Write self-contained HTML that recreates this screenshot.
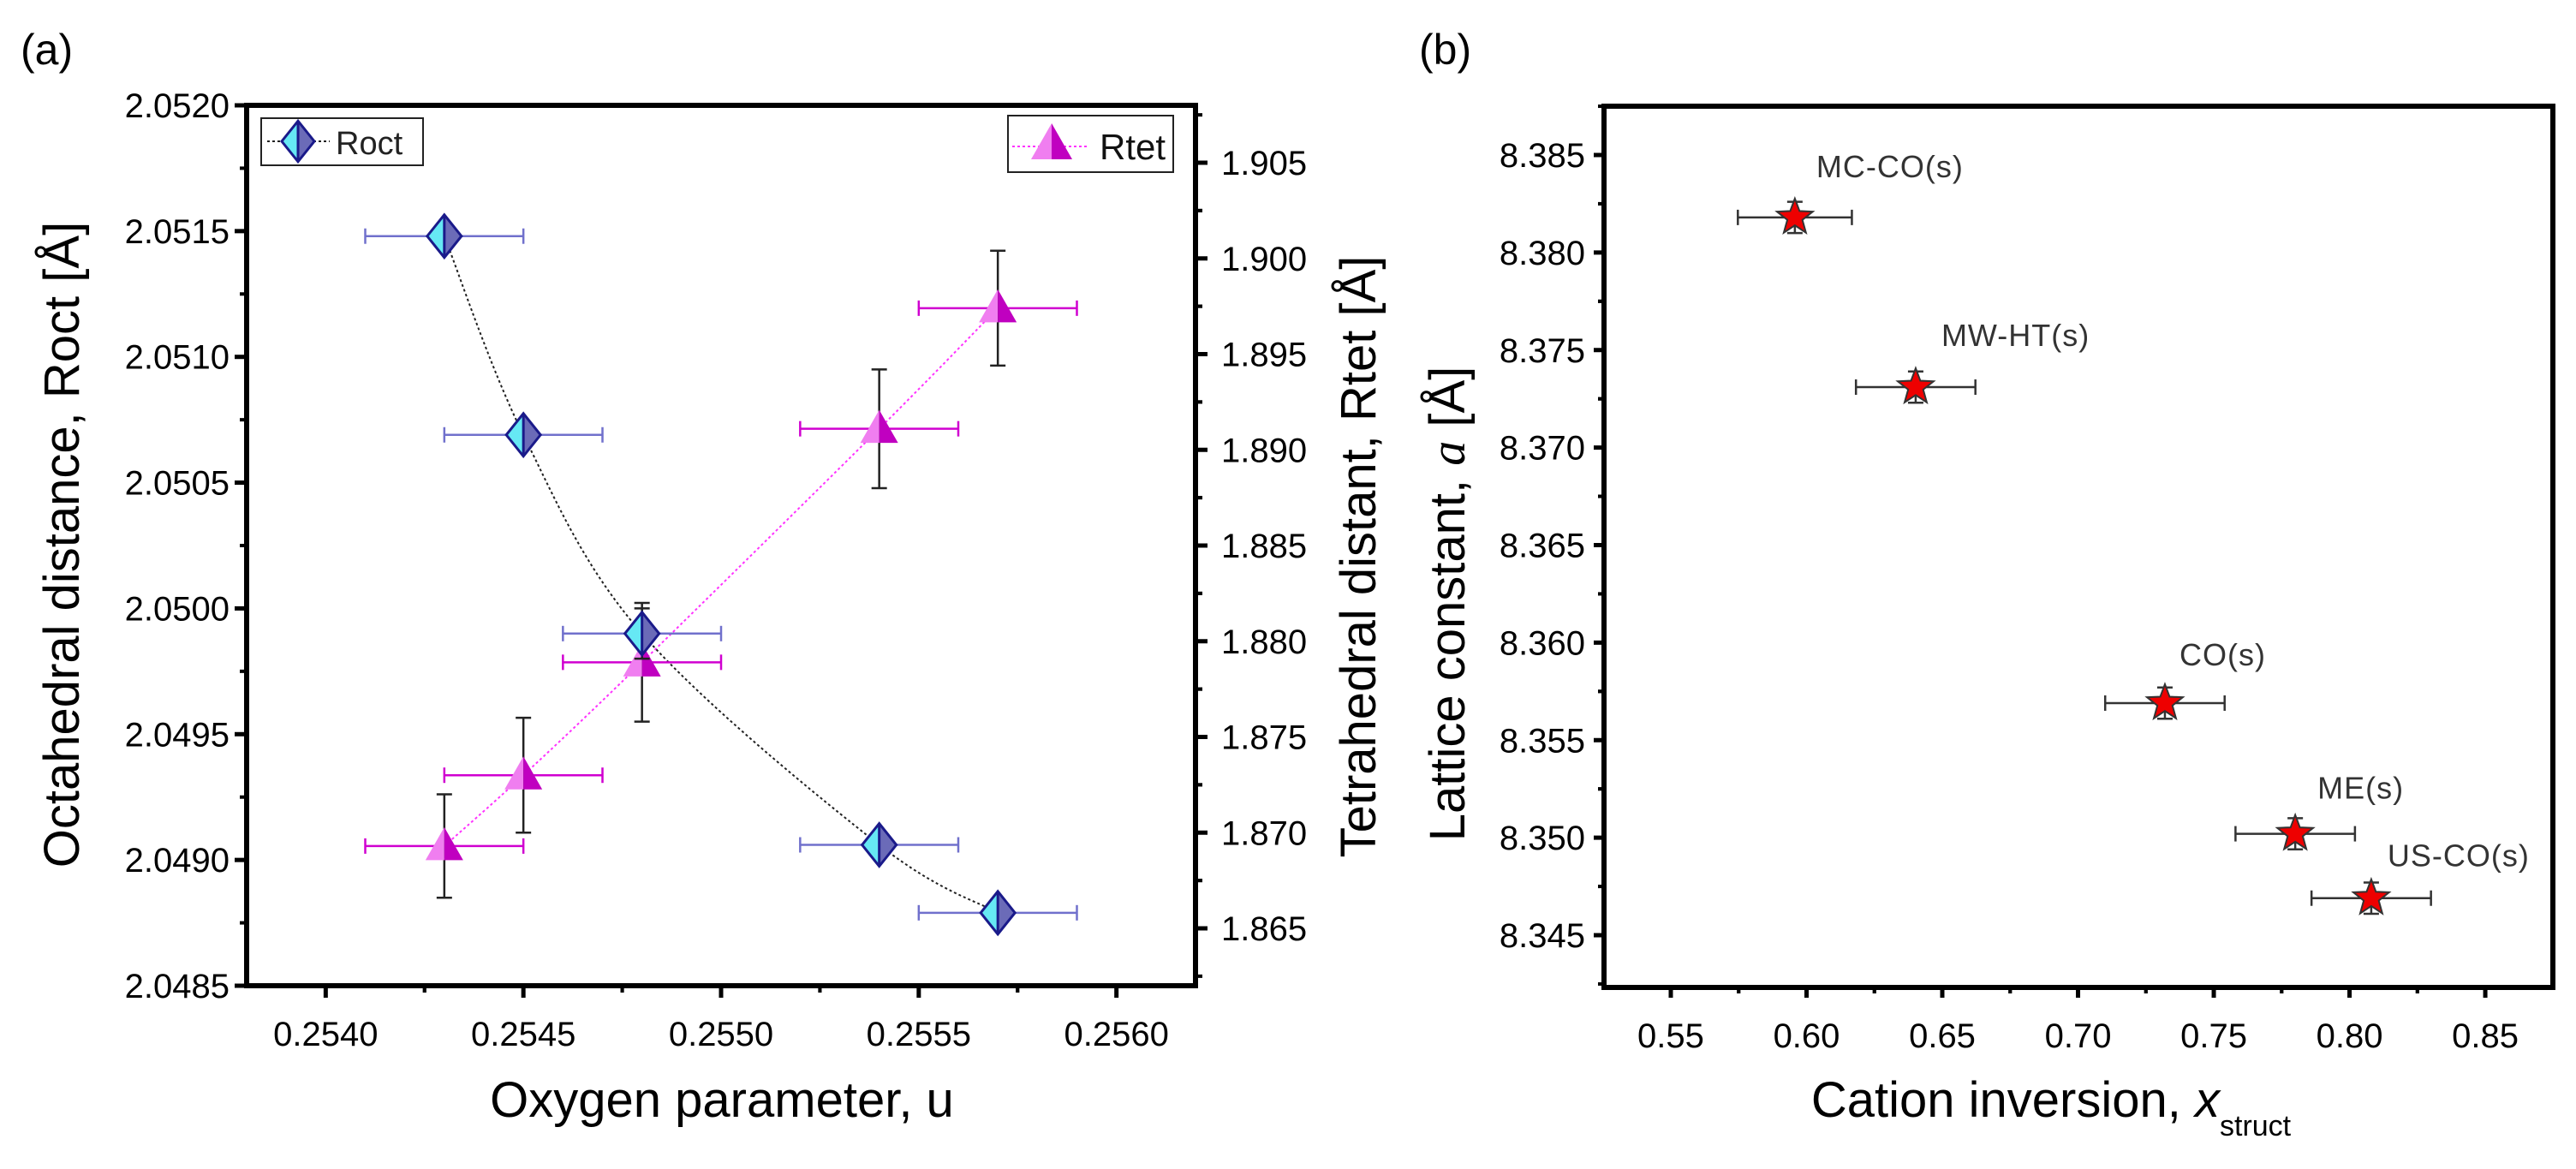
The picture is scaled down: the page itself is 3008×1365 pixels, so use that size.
<!DOCTYPE html>
<html><head><meta charset="utf-8">
<style>
html,body{margin:0;padding:0;background:#fff;}
svg{display:block;font-family:"Liberation Sans",Arial,sans-serif;}
</style></head>
<body>
<svg id="fig" width="3008" height="1365" viewBox="0 0 3008 1365" xmlns="http://www.w3.org/2000/svg">
<g id="pa"></g>
<g id="pb"></g>
</svg>
<script>
// ---------- Panel (a) data ----------
const uVals = [0.2543, 0.2545, 0.2548, 0.2554, 0.2557];
const rOct = [2.05148, 2.05069, 2.04990, 2.04906, 2.04879];
const rOctErr = [0.00005, 0.00005, 0.0001, 0.00005, 0.00005];
const rTet = [1.8693, 1.8730, 1.8789, 1.8911, 1.8974];
const rTetErr = [0.0027, 0.0030, 0.0031, 0.0031, 0.0030];
const uErr = [0.0002, 0.0002, 0.0002, 0.0002, 0.0002];
const aXTicks = ["0.2540","0.2545","0.2550","0.2555","0.2560"];
const aYTicks = ["2.0485","2.0490","2.0495","2.0500","2.0505","2.0510","2.0515","2.0520"];
const aY2Ticks = ["1.865","1.870","1.875","1.880","1.885","1.890","1.895","1.900","1.905"];
// ---------- Panel (b) data ----------
const sampleNames = ["MC-CO(s)","MW-HT(s)","CO(s)","ME(s)","US-CO(s)"];
const xStruct = [0.5957, 0.6402, 0.7320, 0.7800, 0.8080];
const xStructErr = [0.021, 0.022, 0.022, 0.022, 0.022];
const latticeA = [8.3818, 8.3731, 8.3569, 8.3502, 8.3469];
const latticeErr = [0.0008, 0.0008, 0.0008, 0.0008, 0.0008];
const bXTicks = ["0.55","0.60","0.65","0.70","0.75","0.80","0.85"];
const bYTicks = ["8.345","8.350","8.355","8.360","8.365","8.370","8.375","8.380","8.385"];

const NS="http://www.w3.org/2000/svg";
function mk(parent,tag,attrs,text){const e=document.createElementNS(NS,tag);for(const k in attrs)e.setAttribute(k,attrs[k]);if(text!==undefined)e.textContent=text;parent.appendChild(e);return e;}
function lin(d0,d1,r0,r1){return v=>r0+(v-d0)/(d1-d0)*(r1-r0);}
function smoothPath(pts){let d=`M${pts[0][0]},${pts[0][1]}`;for(let i=0;i<pts.length-1;i++){const p0=pts[Math.max(0,i-1)],p1=pts[i],p2=pts[i+1],p3=pts[Math.min(pts.length-1,i+2)];const c1=[p1[0]+(p2[0]-p0[0])/6,p1[1]+(p2[1]-p0[1])/6],c2=[p2[0]-(p3[0]-p1[0])/6,p2[1]-(p3[1]-p1[1])/6];d+=` C${c1[0]},${c1[1]} ${c2[0]},${c2[1]} ${p2[0]},${p2[1]}`;}return d;}

// ================= Panel A =================
const pa=document.getElementById('pa');
const A={l:288,r:1396,t:123,b:1151};
const ax=lin(0.2538,0.2562,A.l,A.r);
const ay=lin(2.0485,2.0520,1151,123);
const ay2=lin(1.865,1.905,1084,190);

let t=mk(pa,'text',{x:24,y:75,'font-size':50},'(a)');



// ticks left
aYTicks.forEach((s,i)=>{const v=parseFloat(s),y=ay(v);
  mk(pa,'line',{x1:A.l-14,x2:A.l,y1:y,y2:y,stroke:'#000','stroke-width':5});
  const tl=mk(pa,'text',{x:A.l-20,y:y+14,'font-size':40,'text-anchor':'end'},s);
  
  
  if(i<aYTicks.length-1){const ym=ay(v+0.00025);mk(pa,'line',{x1:A.l-8,x2:A.l,y1:ym,y2:ym,stroke:'#000','stroke-width':4});}
});
// ticks bottom
aXTicks.forEach((s,i)=>{const v=parseFloat(s),x=ax(v);
  mk(pa,'line',{x1:x,x2:x,y1:A.b,y2:A.b+14,stroke:'#000','stroke-width':5});
  const tl=mk(pa,'text',{x:x,y:A.b+70,'font-size':40,'text-anchor':'middle'},s);
  
  
  [-0.00025,0.00025].forEach(o=>{const vm=v+o;if(vm>0.2538&&vm<0.2562&&(o<0||i==aXTicks.length-1||true)){const xm=ax(vm);mk(pa,'line',{x1:xm,x2:xm,y1:A.b,y2:A.b+8,stroke:'#000','stroke-width':4});}});
});
// ticks right
aY2Ticks.forEach((s,i)=>{const v=parseFloat(s),y=ay2(v);
  mk(pa,'line',{x1:A.r,x2:A.r+14,y1:y,y2:y,stroke:'#000','stroke-width':5});
  const tl=mk(pa,'text',{x:A.r+30,y:y+14,'font-size':40},s);
  
  
  [-0.0025,0.0025].forEach(o=>{const ym=ay2(v+o);if(ym>A.t&&ym<A.b)mk(pa,'line',{x1:A.r,x2:A.r+8,y1:ym,y2:ym,stroke:'#000','stroke-width':4});});
});
// frame
let fr=mk(pa,'rect',{x:A.l,y:A.t,width:A.r-A.l,height:A.b-A.t,fill:'none',stroke:'#000','stroke-width':6});



// axis titles
t=mk(pa,'text',{x:0,y:0,'font-size':58,'text-anchor':'middle',transform:`translate(92,636) rotate(-90)`},'Octahedral distance, Roct [Å]');


t=mk(pa,'text',{x:0,y:0,'font-size':58,'text-anchor':'middle',transform:`translate(1606,650) rotate(-90)`},'Tetrahedral distant, Rtet [Å]');


t=mk(pa,'text',{x:843,y:1304,'font-size':58,'text-anchor':'middle'},'Oxygen parameter, u');



// fit lines
let ln=mk(pa,'path',{d:smoothPath(uVals.map((u,i)=>[ax(u),ay(rOct[i])])),fill:'none',stroke:'#222','stroke-width':2,'stroke-dasharray':'3,3'});


ln=mk(pa,'path',{d:smoothPath(uVals.map((u,i)=>[ax(u),ay2(rTet[i])])),fill:'none',stroke:'#ff33ff','stroke-width':2,'stroke-dasharray':'3,3'});



function diamond(g,x,y,s){
  mk(g,'polygon',{points:`${x},${y-s*1.25} ${x-s},${y} ${x},${y+s*1.25}`,fill:'#66e8f4'});
  mk(g,'polygon',{points:`${x},${y-s*1.25} ${x+s},${y} ${x},${y+s*1.25}`,fill:'#6b6bb8'});
  mk(g,'polygon',{points:`${x},${y-s*1.25} ${x-s},${y} ${x},${y+s*1.25} ${x+s},${y}`,fill:'none',stroke:'#1a1a8a','stroke-width':3});
  mk(g,'line',{x1:x,x2:x,y1:y-s*1.25,y2:y+s*1.25,stroke:'#1a1a8a','stroke-width':3});
}
function tri(g,x,y,s){
  mk(g,'polygon',{points:`${x},${y-s} ${x-s},${y+s*0.75} ${x},${y+s*0.75}`,fill:'#f07ef0'});
  mk(g,'polygon',{points:`${x},${y-s} ${x+s},${y+s*0.75} ${x},${y+s*0.75}`,fill:'#c000c0'});
}
function errBars(g,x,y,x1,x2,y1,y2,hc,vc){
  mk(g,'line',{x1:x1,x2:x2,y1:y,y2:y,stroke:hc,'stroke-width':2.5});
  mk(g,'line',{x1:x1,x2:x1,y1:y-9,y2:y+9,stroke:hc,'stroke-width':2.5});
  mk(g,'line',{x1:x2,x2:x2,y1:y-9,y2:y+9,stroke:hc,'stroke-width':2.5});
  mk(g,'line',{x1:x,x2:x,y1:y1,y2:y2,stroke:vc,'stroke-width':2.5});
  mk(g,'line',{x1:x-9,x2:x+9,y1:y1,y2:y1,stroke:vc,'stroke-width':2.5});
  mk(g,'line',{x1:x-9,x2:x+9,y1:y2,y2:y2,stroke:vc,'stroke-width':2.5});
}
// Rtet points
uVals.forEach((u,i)=>{
  const g=mk(pa,'g',{});
  
  
  const x=ax(u),y=ay2(rTet[i]);
  errBars(g,x,y,ax(u-uErr[i]),ax(u+uErr[i]),ay2(rTet[i]+rTetErr[i]),ay2(rTet[i]-rTetErr[i]),'#d000d0','#222');
  tri(g,x,y,22);
});
// Roct points
uVals.forEach((u,i)=>{
  const g=mk(pa,'g',{});
  
  
  const x=ax(u),y=ay(rOct[i]);
  errBars(g,x,y,ax(u-uErr[i]),ax(u+uErr[i]),ay(rOct[i]+rOctErr[i]),ay(rOct[i]-rOctErr[i]),'#7070cc','#222');
  diamond(g,x,y,20);
});

// legends
let lg=mk(pa,'g',{});


mk(lg,'rect',{x:305,y:138,width:189,height:55,fill:'#fff',stroke:'#222','stroke-width':2});
mk(lg,'line',{x1:312,x2:385,y1:165,y2:165,stroke:'#222','stroke-width':2,'stroke-dasharray':'3,3'});
diamond(lg,348,165,19);
mk(lg,'text',{x:392,y:180,'font-size':38,fill:'#222'},'Roct');
lg=mk(pa,'g',{});


mk(lg,'rect',{x:1177,y:135,width:193,height:66,fill:'#fff',stroke:'#222','stroke-width':2});
mk(lg,'line',{x1:1182,x2:1270,y1:171,y2:171,stroke:'#ff33ff','stroke-width':2,'stroke-dasharray':'3,3'});
tri(lg,1228,168,24);
mk(lg,'text',{x:1284,y:186,'font-size':42,fill:'#111'},'Rtet');

// ================= Panel B =================
const pb=document.getElementById('pb');
const B={l:1873,r:2981,t:124,b:1153};
const bx=lin(0.5254,0.8749,B.l,B.r);
const by=lin(8.345,8.385,1092,181);

t=mk(pb,'text',{x:1657,y:75,'font-size':50},'(b)');



bYTicks.forEach((s,i)=>{const v=parseFloat(s),y=by(v);
  mk(pb,'line',{x1:B.l-12,x2:B.l,y1:y,y2:y,stroke:'#000','stroke-width':5});
  const tl=mk(pb,'text',{x:B.l-22,y:y+14,'font-size':40,'text-anchor':'end'},s);
  
  
  [-0.0025,0.0025].forEach(o=>{const ym=by(v+o);if(ym>B.t&&ym<B.b)mk(pb,'line',{x1:B.l-7,x2:B.l,y1:ym,y2:ym,stroke:'#000','stroke-width':4});});
});
bXTicks.forEach((s,i)=>{const v=parseFloat(s),x=bx(v);
  mk(pb,'line',{x1:x,x2:x,y1:B.b,y2:B.b+12,stroke:'#000','stroke-width':5});
  const tl=mk(pb,'text',{x:x,y:B.b+70,'font-size':40,'text-anchor':'middle'},s);
  
  
  [-0.025,0.025].forEach(o=>{const xm=bx(v+o);if(xm>B.l&&xm<B.r)mk(pb,'line',{x1:xm,x2:xm,y1:B.b,y2:B.b+7,stroke:'#000','stroke-width':4});});
});
fr=mk(pb,'rect',{x:B.l,y:B.t,width:B.r-B.l,height:B.b-B.t,fill:'none',stroke:'#000','stroke-width':6});



t=mk(pb,'text',{x:0,y:0,'font-size':58,'text-anchor':'middle',transform:`translate(1710,705) rotate(-90)`});


mk(t,'tspan',{},'Lattice constant, ');
mk(t,'tspan',{'font-style':'italic','font-family':'"Liberation Serif",serif'},'a');
mk(t,'tspan',{},' [Å]');
t=mk(pb,'text',{x:2395,y:1304,'font-size':58,'text-anchor':'middle'});


mk(t,'tspan',{},'Cation inversion, ');
mk(t,'tspan',{'font-style':'italic'},'x');
mk(t,'tspan',{'font-size':34,dy:22},'struct');

function star(g,x,y,R){let p=[];for(let k=0;k<10;k++){const r=k%2?R*0.42:R,a=-Math.PI/2+k*Math.PI/5;p.push(`${x+r*Math.cos(a)},${y+r*Math.sin(a)}`);}
  mk(g,'polygon',{points:p.join(' '),fill:'#ee0000',stroke:'#333','stroke-width':2});}
const labOff=[[25,-47],[30,-48],[17,-44],[26,-41],[19,-37]];
sampleNames.forEach((n,i)=>{
  const g=mk(pb,'g',{});
  
  
  const x=bx(xStruct[i]),y=by(latticeA[i]);
  errBars(g,x,y,bx(xStruct[i]-xStructErr[i]),bx(xStruct[i]+xStructErr[i]),by(latticeA[i]+latticeErr[i]),by(latticeA[i]-latticeErr[i]),'#333','#333');
  star(g,x,y,22);
  const tl=mk(pb,'text',{x:x+labOff[i][0],y:y+labOff[i][1],'font-size':36,fill:'#333','letter-spacing':1},n);
  
  
});
</script>
</body></html>
